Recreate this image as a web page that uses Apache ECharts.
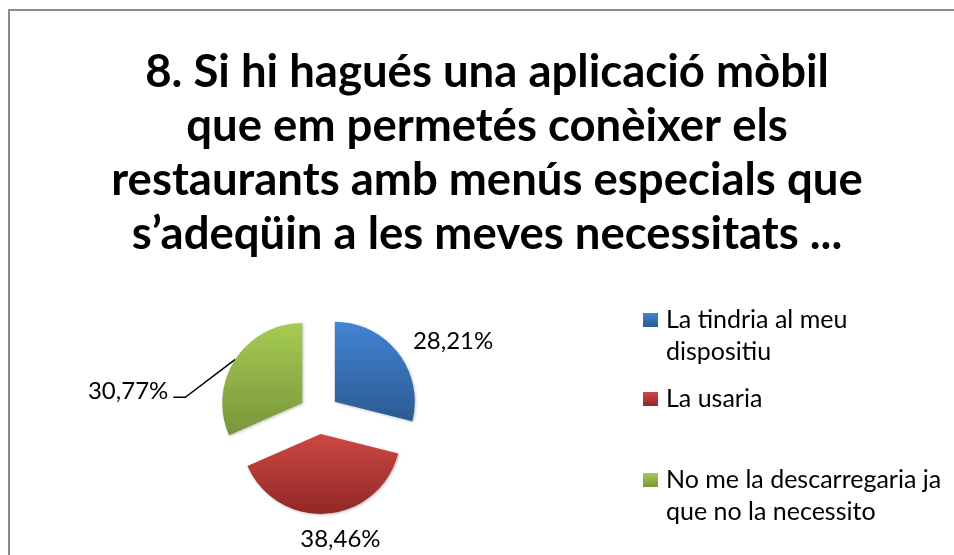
<!DOCTYPE html>
<html>
<head>
<meta charset="utf-8">
<script src="https://cdn.jsdelivr.net/npm/echarts@6/dist/echarts.min.js"></script>
<style>
  html, body { margin: 0; padding: 0; background: #ffffff; }
  #chart { width: 954px; height: 555px; }
</style>
</head>
<body>
<div id="chart"></div>
<script>
// Survey question (title lines)
const titleLines = [
  '8. Si hi hagués una aplicació mòbil',
  'que em permetés conèixer els',
  'restaurants amb menús especials que',
  's’adeqüin a les meves necessitats ...'
];

// Answer options
const categories = [
  'La tindria al meu\ndispositiu',
  'La usaria',
  'No me la descarregaria ja\nque no la necessito'
];

// Share of respondents (%)
const values = [28.21, 38.46, 30.77];

// Slice palette: light top → dark bottom
const topColors = ['#4384d3', '#cd4744', '#a6cb53'];
const bottomColors = ['#2b5a92', '#922826', '#77963a'];

const FONT = 'Lato, "Open Sans", sans-serif';

function sliceGradient(i) {
  return new echarts.graphic.LinearGradient(0, 0, 0, 1, [
    { offset: 0, color: topColors[i] },
    { offset: 1, color: bottomColors[i] }
  ]);
}

function formatPct(v) {
  return v.toFixed(2).replace('.', ',') + '%';
}

// Leader-line settings per slice
const labelLines = [
  { show: false, length: 19, length2: 0 },
  { show: false, length: 26, length2: 11 },
  { show: true, length: 10, length2: 0 }
];

// One legend block per answer so the wrapped entries keep their spacing.
// Wrapped names get an empty leading line so their first line sits beside the swatch.
const legendTops = [272, 383, 432];
const legends = categories.map((name, i) => ({
  data: [name],
  orient: 'vertical',
  left: 643,
  top: legendTops[i],
  padding: 0,
  icon: 'rect',
  itemWidth: 15,
  itemHeight: 14,
  selectedMode: false,
  formatter: (n) => (n.indexOf('\n') >= 0 ? '\n' + n : n),
  textStyle: {
    fontFamily: FONT,
    fontSize: 25,
    color: '#000',
    lineHeight: 32,
    padding: [0, 0, 0, 3]
  }
}));

const chart = echarts.init(document.getElementById('chart'), null, { renderer: 'canvas' });

chart.setOption({
  animation: false,
  backgroundColor: '#ffffff',
  title: {
    text: titleLines.join('\n'),
    left: 487,
    textAlign: 'center',
    top: 45,
    padding: 0,
    textStyle: {
      fontFamily: FONT,
      fontWeight: 'bold',
      fontSize: 45.5,
      lineHeight: 54,
      color: '#000'
    }
  },
  legend: legends,
  graphic: [{
    type: 'rect',
    silent: true,
    shape: { x: 9, y: 10, width: 1100, height: 700 },
    style: { fill: 'none', stroke: '#8a8a8a', lineWidth: 2 }
  }],
  series: [{
    type: 'pie',
    center: [319, 414],
    radius: 80,
    startAngle: 90,
    clockwise: true,
    selectedMode: 'multiple',
    selectedOffset: 20,
    avoidLabelOverlap: false,
    emphasis: { disabled: true },
    itemStyle: {
      shadowBlur: 3,
      shadowColor: 'rgba(0,0,0,0.25)',
      shadowOffsetX: 1,
      shadowOffsetY: 1
    },
    label: {
      show: true,
      position: 'outside',
      fontFamily: FONT,
      fontSize: 24,
      color: '#000',
      distanceToLabelLine: 0,
      formatter: (p) => formatPct(p.value)
    },
    labelLine: {
      lineStyle: { color: '#000', width: 1.5 }
    },
    labelLayout: (params) => {
      if (params.dataIndex === 1) {
        return { align: 'center' };
      }
      if (params.dataIndex === 2 && params.labelLinePoints) {
        // Leader line drops down-left from the slice edge, label sits at its end
        const p0 = params.labelLinePoints[0];
        const r = params.labelRect;
        const targetRight = p0[0] - 67;
        const targetMidY = p0[1] + 32;
        return {
          dx: targetRight - (r.x + r.width),
          dy: targetMidY - (r.y + r.height / 2),
          labelLinePoints: [
            [p0[0], p0[1]],
            [p0[0] - 50, p0[1] + 38],
            [p0[0] - 62, p0[1] + 38]
          ]
        };
      }
      return {};
    },
    data: categories.map((name, i) => ({
      name: name,
      value: values[i],
      selected: true,
      itemStyle: { color: sliceGradient(i) },
      labelLine: labelLines[i]
    }))
  }]
});
</script>
</body>
</html>
